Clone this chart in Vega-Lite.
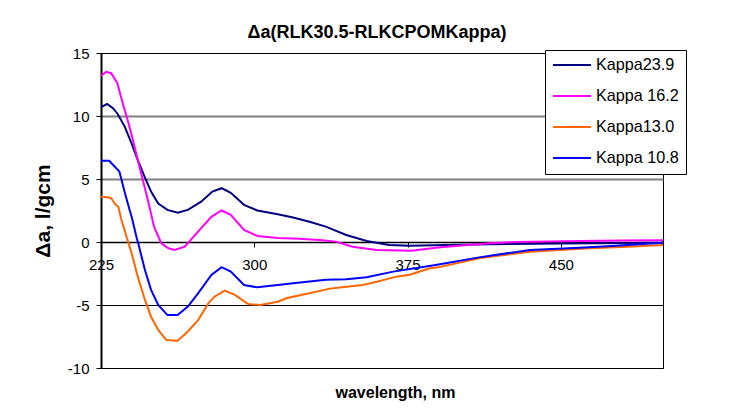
{
  "$schema": "https://vega.github.io/schema/vega-lite/v6.json",
  "width": 562,
  "height": 315,
  "autosize": "none",
  "padding": {"left": 101, "top": 53, "right": 83, "bottom": 40},
  "background": "white",
  "title": {"text": "Δa(RLK30.5-RLKCPOMKappa)", "font": "Liberation Sans", "fontSize": 18, "fontWeight": "bold", "color": "black", "anchor": "middle", "frame": "group", "baseline": "alphabetic", "offset": -10, "dx": -5},
  "data": {"values": [
    {"series": "Kappa23.9", "wavelength": 225, "value": 10.7},
    {"series": "Kappa23.9", "wavelength": 228, "value": 10.95},
    {"series": "Kappa23.9", "wavelength": 231, "value": 10.6},
    {"series": "Kappa23.9", "wavelength": 233, "value": 10.2},
    {"series": "Kappa23.9", "wavelength": 236.5, "value": 9.2},
    {"series": "Kappa23.9", "wavelength": 240, "value": 7.8},
    {"series": "Kappa23.9", "wavelength": 243, "value": 6.5},
    {"series": "Kappa23.9", "wavelength": 246, "value": 5.3},
    {"series": "Kappa23.9", "wavelength": 249.5, "value": 4.0},
    {"series": "Kappa23.9", "wavelength": 253, "value": 3.05},
    {"series": "Kappa23.9", "wavelength": 257.5, "value": 2.55},
    {"series": "Kappa23.9", "wavelength": 262.5, "value": 2.33},
    {"series": "Kappa23.9", "wavelength": 267.5, "value": 2.55},
    {"series": "Kappa23.9", "wavelength": 274, "value": 3.2},
    {"series": "Kappa23.9", "wavelength": 279.5, "value": 4.0},
    {"series": "Kappa23.9", "wavelength": 284, "value": 4.27},
    {"series": "Kappa23.9", "wavelength": 288.5, "value": 3.9},
    {"series": "Kappa23.9", "wavelength": 295, "value": 2.95},
    {"series": "Kappa23.9", "wavelength": 301.5, "value": 2.5},
    {"series": "Kappa23.9", "wavelength": 311.5, "value": 2.2},
    {"series": "Kappa23.9", "wavelength": 319, "value": 1.95},
    {"series": "Kappa23.9", "wavelength": 327, "value": 1.6},
    {"series": "Kappa23.9", "wavelength": 335, "value": 1.22},
    {"series": "Kappa23.9", "wavelength": 345, "value": 0.56},
    {"series": "Kappa23.9", "wavelength": 355, "value": 0.08},
    {"series": "Kappa23.9", "wavelength": 366, "value": -0.24},
    {"series": "Kappa23.9", "wavelength": 376, "value": -0.3},
    {"series": "Kappa23.9", "wavelength": 394, "value": -0.24},
    {"series": "Kappa23.9", "wavelength": 415, "value": -0.18},
    {"series": "Kappa23.9", "wavelength": 450, "value": -0.12},
    {"series": "Kappa23.9", "wavelength": 500, "value": -0.05},

    {"series": "Kappa 16.2", "wavelength": 225, "value": 13.2},
    {"series": "Kappa 16.2", "wavelength": 227.5, "value": 13.5},
    {"series": "Kappa 16.2", "wavelength": 230, "value": 13.4},
    {"series": "Kappa 16.2", "wavelength": 233, "value": 12.6},
    {"series": "Kappa 16.2", "wavelength": 235.5, "value": 11.1},
    {"series": "Kappa 16.2", "wavelength": 238, "value": 9.7},
    {"series": "Kappa 16.2", "wavelength": 240, "value": 8.5},
    {"series": "Kappa 16.2", "wavelength": 243, "value": 6.5},
    {"series": "Kappa 16.2", "wavelength": 245.5, "value": 4.9},
    {"series": "Kappa 16.2", "wavelength": 248, "value": 3.3},
    {"series": "Kappa 16.2", "wavelength": 251, "value": 1.2},
    {"series": "Kappa 16.2", "wavelength": 254.5, "value": -0.1},
    {"series": "Kappa 16.2", "wavelength": 258, "value": -0.5},
    {"series": "Kappa 16.2", "wavelength": 261, "value": -0.63},
    {"series": "Kappa 16.2", "wavelength": 266, "value": -0.37},
    {"series": "Kappa 16.2", "wavelength": 272.5, "value": 0.82},
    {"series": "Kappa 16.2", "wavelength": 279, "value": 2.0},
    {"series": "Kappa 16.2", "wavelength": 284, "value": 2.5},
    {"series": "Kappa 16.2", "wavelength": 288.5, "value": 2.15},
    {"series": "Kappa 16.2", "wavelength": 295, "value": 0.95},
    {"series": "Kappa 16.2", "wavelength": 301.5, "value": 0.48},
    {"series": "Kappa 16.2", "wavelength": 311.5, "value": 0.32},
    {"series": "Kappa 16.2", "wavelength": 322, "value": 0.25},
    {"series": "Kappa 16.2", "wavelength": 332, "value": 0.16},
    {"series": "Kappa 16.2", "wavelength": 340, "value": 0.03},
    {"series": "Kappa 16.2", "wavelength": 348, "value": -0.37},
    {"series": "Kappa 16.2", "wavelength": 360, "value": -0.63},
    {"series": "Kappa 16.2", "wavelength": 377, "value": -0.7},
    {"series": "Kappa 16.2", "wavelength": 391, "value": -0.42},
    {"series": "Kappa 16.2", "wavelength": 415, "value": -0.1},
    {"series": "Kappa 16.2", "wavelength": 428, "value": 0.0},
    {"series": "Kappa 16.2", "wavelength": 459, "value": 0.08},
    {"series": "Kappa 16.2", "wavelength": 480, "value": 0.12},
    {"series": "Kappa 16.2", "wavelength": 500, "value": 0.13},

    {"series": "Kappa13.0", "wavelength": 225, "value": 3.6},
    {"series": "Kappa13.0", "wavelength": 228.5, "value": 3.55},
    {"series": "Kappa13.0", "wavelength": 230, "value": 3.47},
    {"series": "Kappa13.0", "wavelength": 232, "value": 3.0},
    {"series": "Kappa13.0", "wavelength": 233.5, "value": 2.8},
    {"series": "Kappa13.0", "wavelength": 235, "value": 1.75},
    {"series": "Kappa13.0", "wavelength": 236.5, "value": 0.95},
    {"series": "Kappa13.0", "wavelength": 238, "value": 0.16},
    {"series": "Kappa13.0", "wavelength": 240, "value": -0.9},
    {"series": "Kappa13.0", "wavelength": 243, "value": -2.75},
    {"series": "Kappa13.0", "wavelength": 246.5, "value": -4.6},
    {"series": "Kappa13.0", "wavelength": 249.5, "value": -5.93},
    {"series": "Kappa13.0", "wavelength": 253, "value": -6.98},
    {"series": "Kappa13.0", "wavelength": 257, "value": -7.78},
    {"series": "Kappa13.0", "wavelength": 262.5, "value": -7.83},
    {"series": "Kappa13.0", "wavelength": 267.5, "value": -7.1},
    {"series": "Kappa13.0", "wavelength": 272.5, "value": -6.2},
    {"series": "Kappa13.0", "wavelength": 277.5, "value": -4.87},
    {"series": "Kappa13.0", "wavelength": 280.5, "value": -4.34},
    {"series": "Kappa13.0", "wavelength": 285.5, "value": -3.86},
    {"series": "Kappa13.0", "wavelength": 290.5, "value": -4.2},
    {"series": "Kappa13.0", "wavelength": 297, "value": -4.92},
    {"series": "Kappa13.0", "wavelength": 303, "value": -5.0},
    {"series": "Kappa13.0", "wavelength": 311.5, "value": -4.74},
    {"series": "Kappa13.0", "wavelength": 316, "value": -4.45},
    {"series": "Kappa13.0", "wavelength": 327, "value": -4.07},
    {"series": "Kappa13.0", "wavelength": 337, "value": -3.7},
    {"series": "Kappa13.0", "wavelength": 343, "value": -3.6},
    {"series": "Kappa13.0", "wavelength": 353, "value": -3.41},
    {"series": "Kappa13.0", "wavelength": 360, "value": -3.15},
    {"series": "Kappa13.0", "wavelength": 369.5, "value": -2.75},
    {"series": "Kappa13.0", "wavelength": 376, "value": -2.6},
    {"series": "Kappa13.0", "wavelength": 386, "value": -2.09},
    {"series": "Kappa13.0", "wavelength": 390, "value": -2.0},
    {"series": "Kappa13.0", "wavelength": 410, "value": -1.3},
    {"series": "Kappa13.0", "wavelength": 435, "value": -0.77},
    {"series": "Kappa13.0", "wavelength": 464, "value": -0.5},
    {"series": "Kappa13.0", "wavelength": 483, "value": -0.37},
    {"series": "Kappa13.0", "wavelength": 500, "value": -0.24},

    {"series": "Kappa 10.8", "wavelength": 225, "value": 6.45},
    {"series": "Kappa 10.8", "wavelength": 229, "value": 6.45},
    {"series": "Kappa 10.8", "wavelength": 234, "value": 5.6},
    {"series": "Kappa 10.8", "wavelength": 236.5, "value": 4.0},
    {"series": "Kappa 10.8", "wavelength": 239, "value": 2.54},
    {"series": "Kappa 10.8", "wavelength": 240, "value": 2.0},
    {"series": "Kappa 10.8", "wavelength": 242.5, "value": 0.3},
    {"series": "Kappa 10.8", "wavelength": 243, "value": 0.03},
    {"series": "Kappa 10.8", "wavelength": 246.5, "value": -2.22},
    {"series": "Kappa 10.8", "wavelength": 249.5, "value": -3.8},
    {"series": "Kappa 10.8", "wavelength": 253, "value": -5.0},
    {"series": "Kappa 10.8", "wavelength": 257.5, "value": -5.8},
    {"series": "Kappa 10.8", "wavelength": 262.5, "value": -5.8},
    {"series": "Kappa 10.8", "wavelength": 267.5, "value": -5.13},
    {"series": "Kappa 10.8", "wavelength": 272.5, "value": -4.07},
    {"series": "Kappa 10.8", "wavelength": 279, "value": -2.62},
    {"series": "Kappa 10.8", "wavelength": 284, "value": -2.0},
    {"series": "Kappa 10.8", "wavelength": 288.5, "value": -2.35},
    {"series": "Kappa 10.8", "wavelength": 295, "value": -3.41},
    {"series": "Kappa 10.8", "wavelength": 301.5, "value": -3.6},
    {"series": "Kappa 10.8", "wavelength": 311.5, "value": -3.41},
    {"series": "Kappa 10.8", "wavelength": 319, "value": -3.28},
    {"series": "Kappa 10.8", "wavelength": 335, "value": -3.0},
    {"series": "Kappa 10.8", "wavelength": 345, "value": -2.95},
    {"series": "Kappa 10.8", "wavelength": 355, "value": -2.8},
    {"series": "Kappa 10.8", "wavelength": 368, "value": -2.35},
    {"series": "Kappa 10.8", "wavelength": 388, "value": -1.85},
    {"series": "Kappa 10.8", "wavelength": 410, "value": -1.22},
    {"series": "Kappa 10.8", "wavelength": 435, "value": -0.63},
    {"series": "Kappa 10.8", "wavelength": 459, "value": -0.45},
    {"series": "Kappa 10.8", "wavelength": 475, "value": -0.32},
    {"series": "Kappa 10.8", "wavelength": 500, "value": -0.05}
  ]},
  "mark": {"type": "line", "strokeWidth": 2},
  "encoding": {
    "x": {
      "field": "wavelength", "type": "quantitative",
      "scale": {"domain": [225, 500], "nice": false, "zero": false},
      "axis": {
        "values": [225, 300, 375, 450], "offset": -126, "grid": false,
        "domainColor": "black", "domainWidth": 1.5, "tickColor": "black", "tickSize": 5, "tickWidth": 1,
        "labelFont": "Liberation Sans", "labelFontSize": 15, "labelColor": "black", "labelPadding": 10, "labelFlush": false,
        "title": "wavelength, nm", "titleFont": "Liberation Sans", "titleFontSize": 16, "titleFontWeight": "bold", "titleColor": "black",
        "titleY": 155, "titleBaseline": "alphabetic", "titleX": 294
      }
    },
    "y": {
      "field": "value", "type": "quantitative",
      "scale": {"domain": [-10, 15], "nice": false},
      "axis": {
        "values": [-10, -5, 0, 5, 10, 15], "grid": true,
        "gridColor": {"condition": {"test": "datum.value > 0 && datum.value < 15", "value": "#808080"}, "value": "black"},
        "gridWidth": {"condition": {"test": "datum.value > 0 && datum.value < 15", "value": 2}, "value": 1},
        "domainColor": "black", "domainWidth": 2, "tickColor": "black", "tickSize": 5, "tickWidth": 1,
        "labelFont": "Liberation Sans", "labelFontSize": 15, "labelColor": "black", "labelPadding": 7,
        "labelExpr": "'' + datum.value",
        "title": "Δa, l/gcm", "titleFont": "Liberation Sans", "titleFontSize": 21, "titleFontWeight": "bold", "titleColor": "black",
        "titlePadding": 14
      }
    },
    "color": {
      "field": "series", "type": "nominal",
      "scale": {"domain": ["Kappa23.9", "Kappa 16.2", "Kappa13.0", "Kappa 10.8"], "range": ["#000080", "#FF00FF", "#FF6600", "#0000FF"]},
      "legend": {
        "orient": "none", "legendX": 444, "legendY": -3, "title": null,
        "strokeColor": "black", "fillColor": "white", "padding": 7,
        "symbolType": "stroke", "symbolSize": 1444, "symbolStrokeWidth": 2,
        "clipHeight": 16,
        "labelFont": "Liberation Sans", "labelFontSize": 16.2, "labelColor": "black", "labelOffset": 4,
        "rowPadding": 14
      }
    }
  },
  "config": {"view": {"stroke": "black", "strokeWidth": 1}}
}
